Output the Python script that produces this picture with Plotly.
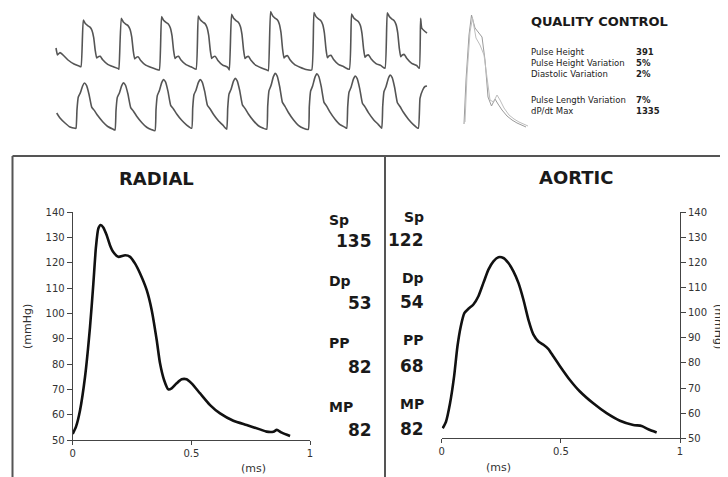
import plotly.graph_objects as go

W, H = 728, 477
OX, OY = 8, 8  # page body margin of the rendered html

# ---------------- main waveform data ----------------
radial_t = [0.0, 0.014, 0.031, 0.052, 0.073, 0.087, 0.098, 0.108, 0.118, 0.129, 0.143, 0.157,
            0.171, 0.192, 0.221, 0.242, 0.263, 0.284, 0.312, 0.333, 0.354, 0.368, 0.385, 0.403,
            0.417, 0.438, 0.459, 0.480, 0.501, 0.537, 0.579, 0.621, 0.677, 0.733, 0.789, 0.817,
            0.846, 0.860, 0.881, 0.916]
radial_p = [52.4, 55.3, 61.8, 75.0, 94.7, 111.8, 126.3, 133.6, 135.0, 134.0, 131.0, 127.0,
            124.3, 122.4, 123.0, 122.4, 119.7, 115.8, 109.2, 101.3, 89.5, 80.3, 73.7, 70.0,
            70.4, 72.4, 74.0, 74.0, 72.4, 68.4, 63.8, 60.5, 57.6, 55.9, 54.2, 53.3,
            53.3, 54.0, 52.9, 51.6]

aortic_t = [0.004, 0.018, 0.035, 0.052, 0.066, 0.080, 0.095, 0.112, 0.133, 0.154, 0.175, 0.196,
            0.217, 0.238, 0.259, 0.280, 0.301, 0.322, 0.343, 0.364, 0.385, 0.406, 0.427, 0.448,
            0.469, 0.497, 0.538, 0.580, 0.636, 0.692, 0.748, 0.804, 0.839, 0.867, 0.902]
aortic_p = [54.0, 56.6, 63.9, 74.6, 86.5, 94.5, 99.8, 101.5, 103.2, 106.5, 111.8, 117.1,
            120.4, 122.0, 121.7, 119.7, 116.4, 111.8, 105.1, 97.1, 91.2, 88.5, 87.2, 85.5,
            82.5, 78.6, 73.2, 68.6, 63.9, 60.0, 57.0, 55.3, 54.9, 53.6, 52.3]

y_ticks = [50, 60, 70, 80, 90, 100, 110, 120, 130, 140]
x_ticks = [0, 0.5, 1]
x_ticklabels = ["0", "0.5", "1"]

radial_labels = ["Sp", "Dp", "PP", "MP"]
radial_values = ["135", "53", "82", "82"]
aortic_values = ["122", "54", "68", "82"]

qc_labels = ["Pulse Height", "Pulse Height Variation", "Diastolic Variation",
             "Pulse Length Variation", "dP/dt Max"]
qc_values = ["391", "5%", "2%", "7%", "1335"]

# ---------------- top strip (page-pixel units) ----------------
rad_onsets = [81, 119, 159.3, 196, 229.3, 268.3, 311.7, 349.3, 385, 419.3]
rad_peaks = [20, 18.3, 16.7, 16, 14.3, 11.7, 12.7, 14, 12.7]
rad_troughs = [66.7, 69.3, 70, 69.3, 70, 70.7, 70, 69.3, 68.3, 68.3]
rad_tpl_dx = [0, 2.3, 4.3, 6.7, 9, 11, 12.7, 14.3, 15.7, 17.3, 19.3, 21.7, 26.7, 31.7, 37.7]
rad_tpl_lv = [0, 1.0, 0.93, 0.89, 0.86, 0.79, 0.64, 0.36, 0.21, 0.24, 0.25, 0.18, 0.09, 0.05, 0.01]
rad_start_x = [56, 57.5, 60, 63, 68, 74, 79]
rad_start_y = [48, 55, 52.5, 55, 60, 64, 66]
rad_end_x = [420.6, 421.7, 425, 427]
rad_end_y = [18.3, 28, 31.5, 33]

aor_onsets = [76, 115, 155, 191.7, 226.7, 266.7, 308.3, 346.7, 381.7, 418.3]
aor_peaks = [82.7, 82.7, 80, 79.3, 78.3, 73.3, 74, 76, 75]
aor_troughs = [128.3, 130, 130.7, 128.3, 129.3, 129.3, 129.3, 128.3, 128.3, 128.3]
aor_tpl_dx = [0, 1, 2.3, 4.3, 6.7, 8.5, 10.5, 13, 15.7, 18.3, 21.7, 26.7, 31.7, 36.7]
aor_tpl_lv = [0, 0.41, 0.69, 0.78, 0.94, 1.0, 0.95, 0.76, 0.48, 0.41, 0.30, 0.17, 0.07, 0.02]
aor_start_x = [56.7, 60, 65, 70, 75]
aor_start_y = [113, 118, 123, 127, 128.3]
aor_end_x = [420, 422.7, 425, 427]
aor_end_y = [98.3, 90, 86.5, 86]

qc_a_x = [464, 466, 469, 471.5, 475, 478, 482, 485, 488, 491.5, 495, 498, 502, 507, 512, 517, 522, 526]
qc_a_y = [124, 80, 35, 15, 28, 32, 37, 60, 97, 106, 99, 104, 110, 116, 120, 123, 125, 127]
qc_b_x = [465, 467, 470, 472.5, 476, 480, 484, 487, 490, 493.5, 497, 500, 504, 509, 514, 519, 524, 528]
qc_b_y = [122, 75, 32, 18, 38, 45, 55, 78, 100, 102, 95, 100, 108, 115, 119, 122, 124, 126]


def build_strip(sx, sy, onsets, peaks, troughs, dx, lv, ex, ey):
    xs, ys = list(sx), list(sy)
    for i in range(len(peaks)):
        x0 = onsets[i]
        nxt = onsets[i + 1]
        base = troughs[i]
        base_next = troughs[i + 1]
        amp = base - peaks[i]
        for d, l in zip(dx, lv):
            if x0 + d >= nxt:
                break
            frac = d / (nxt - x0)
            b = base + (base_next - base) * frac
            xs.append(x0 + d)
            ys.append(b - l * amp)
    xs.append(onsets[-1])
    ys.append(troughs[-1])
    xs += ex
    ys += ey
    return xs, ys


rx, ry = build_strip(rad_start_x, rad_start_y, rad_onsets, rad_peaks, rad_troughs,
                     rad_tpl_dx, rad_tpl_lv, rad_end_x, rad_end_y)
ax_, ay_ = build_strip(aor_start_x, aor_start_y, aor_onsets, aor_peaks, aor_troughs,
                       aor_tpl_dx, aor_tpl_lv, aor_end_x, aor_end_y)

FONT = "DejaVu Sans, Liberation Sans, Arial"
INK = "#1a1a1a"
AX = "#444444"


def px(x):
    return (x - OX) / W


def py(y):
    return 1 - (y - OY) / H


fig = go.Figure()

fig.add_trace(go.Scatter(x=radial_t, y=radial_p, mode="lines", line=dict(color="#111", width=2.6, shape="spline", smoothing=0.6),
                         xaxis="x", yaxis="y", hoverinfo="skip"))
fig.add_trace(go.Scatter(x=aortic_t, y=aortic_p, mode="lines", line=dict(color="#111", width=2.6, shape="spline", smoothing=0.6),
                         xaxis="x2", yaxis="y2", hoverinfo="skip"))
fig.add_trace(go.Scatter(x=rx, y=ry, mode="lines", line=dict(color="#555", width=1.6, shape="spline", smoothing=0.4),
                         xaxis="x3", yaxis="y3", hoverinfo="skip"))
fig.add_trace(go.Scatter(x=ax_, y=ay_, mode="lines", line=dict(color="#555", width=1.6, shape="spline", smoothing=0.4),
                         xaxis="x3", yaxis="y3", hoverinfo="skip"))
fig.add_trace(go.Scatter(x=qc_a_x, y=qc_a_y, mode="lines", line=dict(color="#9a9a9a", width=1),
                         xaxis="x3", yaxis="y3", hoverinfo="skip"))
fig.add_trace(go.Scatter(x=qc_b_x, y=qc_b_y, mode="lines", line=dict(color="#bdbdbd", width=1),
                         xaxis="x3", yaxis="y3", hoverinfo="skip"))

tickfont = dict(family=FONT, size=10, color="#333")
common_x = dict(range=[0, 1], tickvals=x_ticks, ticktext=x_ticklabels, showgrid=False, zeroline=False,
                showline=True, linecolor=AX, linewidth=1, ticks="outside", ticklen=4, tickcolor=AX,
                tickfont=tickfont, fixedrange=True, automargin=False)
common_y = dict(range=[50, 140], tickvals=y_ticks, showgrid=False, zeroline=False,
                showline=True, linecolor=AX, linewidth=1, ticks="outside", ticklen=5, tickcolor=AX,
                tickfont=tickfont, fixedrange=True, automargin=False)

fig.update_layout(
    template="none",
    width=W, height=H, autosize=False,
    margin=dict(l=0, r=0, t=0, b=0, pad=0, autoexpand=False),
    paper_bgcolor="white", plot_bgcolor="rgba(0,0,0,0)", showlegend=False,
    xaxis=dict(domain=[px(72.7), px(310)], anchor="y", **common_x),
    yaxis=dict(domain=[py(440), py(212.3)], anchor="x", side="left", **common_y),
    xaxis2=dict(domain=[px(441.7), px(680)], anchor="y2", **common_x),
    yaxis2=dict(domain=[py(438.3), py(212)], anchor="x2", side="right", **common_y),
    xaxis3=dict(domain=[0, 1], range=[OX, W + OX], visible=False, anchor="y3", fixedrange=True, automargin=False),
    yaxis3=dict(domain=[0, 1], range=[H + OY, OY], visible=False, anchor="x3", fixedrange=True, automargin=False),
)

shapes = [
    dict(type="line", xref="paper", yref="paper", x0=px(12.5), x1=1, y0=py(156), y1=py(156),
         line=dict(color="#555", width=2)),
    dict(type="line", xref="paper", yref="paper", x0=px(12.5), x1=px(12.5), y0=py(156), y1=0,
         line=dict(color="#555", width=2)),
    dict(type="line", xref="paper", yref="paper", x0=px(385), x1=px(385), y0=py(156), y1=0,
         line=dict(color="#555", width=2)),
]
fig.update_layout(shapes=shapes)

ann = []


def A(x, y, text, size, bold=False, xanchor="center", yanchor="middle", angle=0, color=INK):
    t = f"<b>{text}</b>" if bold else text
    ann.append(dict(x=px(x), y=py(y), xref="paper", yref="paper", text=t, showarrow=False,
                    xanchor=xanchor, yanchor=yanchor, textangle=angle,
                    font=dict(family=FONT, size=size, color=color)))


A(156, 178, "RADIAL", 18, bold=True)
A(576, 177, "AORTIC", 18, bold=True)
A(27, 327, "(mmHg)", 11, angle=-90, color="#333")
A(719, 326, "(mmHg)", 11, angle=90, color="#333")
A(253, 468, "(ms)", 11, color="#333")
A(498, 467, "(ms)", 11, color="#333")

lab_y = [220, 281, 343, 407]
val_y = [241, 303, 367, 430]
for lab, v, ly, vy in zip(radial_labels, radial_values, lab_y, val_y):
    A(327, ly, lab, 14, bold=True, xanchor="left")
    A(374, vy, v, 17, bold=True, xanchor="right")
for lab, v, ly, vy in zip(radial_labels, aortic_values, lab_y, val_y):
    A(426, ly - 3, lab, 14, bold=True, xanchor="right")
    A(426, vy - 1, v, 17, bold=True, xanchor="right")

A(529, 21, "QUALITY CONTROL", 13, bold=True, xanchor="left")
qc_y = [52, 63, 74, 100, 111]
for lab, v, yy in zip(qc_labels, qc_values, qc_y):
    A(529, yy, lab, 8.5, xanchor="left", color="#222")
    A(634, yy, v, 8.5, bold=True, xanchor="left", color="#222")

fig.update_layout(annotations=ann)

fig.write_html("out.html")
